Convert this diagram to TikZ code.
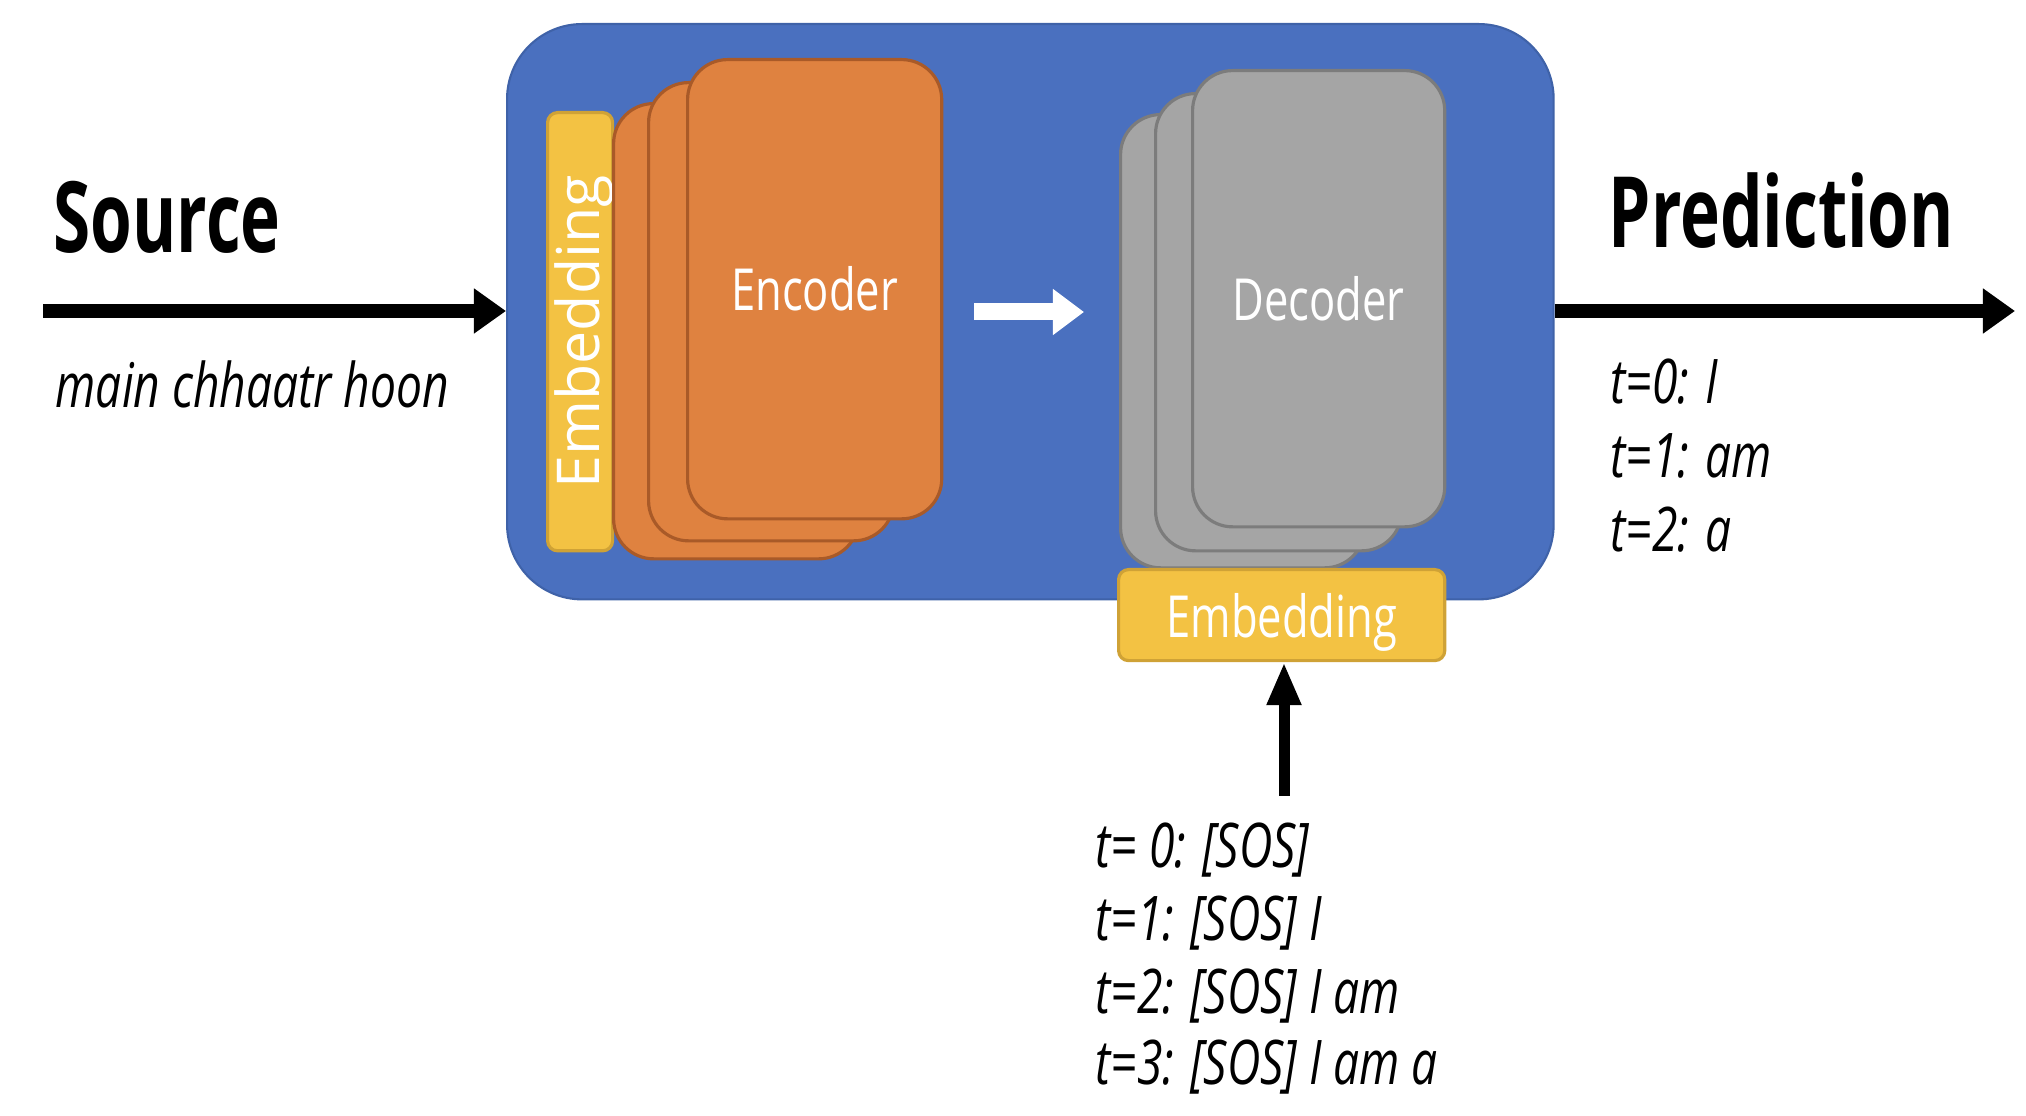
\documentclass[tikz,border=0pt]{standalone}
\usepackage{fontspec}
\setmainfont{Open Sans}
\newfontfamily\narrowfont[FakeStretch=0.75]{Open Sans}
\newfontfamily\headfont[FakeStretch=0.685]{Open Sans}
\usetikzlibrary{arrows.meta, positioning}
\definecolor{modelfill}{HTML}{4A70BF}
\definecolor{modelline}{HTML}{3F62A8}
\definecolor{encfill}{HTML}{DF8240}
\definecolor{encline}{HTML}{A95A28}
\definecolor{decfill}{HTML}{A5A5A5}
\definecolor{decline}{HTML}{7C7C7C}
\definecolor{embfill}{HTML}{F3C243}
\definecolor{embline}{HTML}{CFA236}
\tikzset{
        x=0.01cm, y=-0.01cm, % one unit is one pixel of the reference
        model/.style={anchor=north west, inner sep=0pt, draw=modelline, fill=modelfill, rounded corners=0.75cm, line width=0.6pt},
        stack/.style={anchor=north west, inner sep=0pt, rounded corners=0.4cm, line width=0.9pt, text=white,
            font=\narrowfont\fontsize{16.5}{20}\selectfont},
        encbox/.style={stack, draw=encline, fill=encfill},
        decbox/.style={stack, draw=decline, fill=decfill},
        embbox/.style={stack, rounded corners=0.1cm, draw=embline, fill=embfill},
        heading/.style={anchor=base west, inner sep=0pt, font=\headfont\bfseries\fontsize{28}{32}\selectfont},
        sample/.style={anchor=base west, inner sep=0pt, font=\narrowfont\itshape\fontsize{17.5}{21}\selectfont},
        bigarrow/.style={-{Triangle[length=0.32cm,width=0.43cm]}, line width=0.14cm}, % thick black arrows
        uparrow/.style={-{Triangle[length=0.43cm,width=0.32cm]}, line width=0.11cm},
        flowarrow/.style={-{Triangle[length=0.31cm,width=0.44cm]}, line width=0.17cm, white},
    }

\begin{document}
\begin{tikzpicture}
    \useasboundingbox (0,0) rectangle (2026,1116);

    % the model
    \node[model, minimum width=10.46cm, minimum height=5.75cm] (model) at (506,23) {};

    % encoder side
    \node[embbox, minimum width=0.65cm, minimum height=4.38cm] (encemb) at (546,111) {};
    \node[rotate=90, text=white, text depth=0pt, inner sep=0pt, font=\fontsize{16.8}{20}\selectfont]
        (encembtext) at ([xshift=-0.03cm]encemb.center) {Embedding};
    \node[encbox, minimum width=2.45cm, minimum height=4.55cm] (enc1) at (612,102) {};
    \node[encbox, minimum width=2.45cm, minimum height=4.58cm] (enc2) at (647,81) {};
    \node[encbox, minimum width=2.54cm, minimum height=4.59cm] (enc3) at (686,58) {Encoder};

    % decoder side
    \node[decbox, minimum width=2.44cm, minimum height=4.53cm] (dec1) at (1119,113) {};
    \node[decbox, minimum width=2.46cm, minimum height=4.57cm] (dec2) at (1154,92) {};
    \node[decbox, minimum width=2.52cm, minimum height=4.56cm] (dec3) at (1191,69) {Decoder};
    \node[embbox, minimum width=3.26cm, minimum height=0.91cm, text depth=0pt] (decemb) at (1117,568) {Embedding};

    \coordinate (wa) at (974,312);
    \coordinate (wb) at (1084,312);
    \draw[flowarrow] (wa) -- (wb);

    % input and output
    \node[heading] (source) at (53,253) {Source};
    \node[heading] (prediction) at (1608,248) {Prediction};
    \coordinate (src) at (43,311);
    \coordinate (out) at (2015,311);
    \draw[bigarrow] (src) -- (model.west |- src);
    \draw[bigarrow] (model.east |- out) -- (out);
    \node[sample] (srctext) at (55,408) {main chhaatr hoon};

    \node[sample] (pred0) at (1610,404) {t=0: I};
    \node[sample] (pred1) at (1610,478) {t=1: am};
    \node[sample] (pred2) at (1610,552) {t=2: a};

    \coordinate (inp) at (1284,796);
    \draw[uparrow] (inp) -- (inp |- decemb.south);
    \node[sample] (in0) at (1095,868) {t= 0: [SOS]};
    \node[sample] (in1) at (1095,941) {t=1: [SOS] I};
    \node[sample] (in2) at (1095,1014) {t=2: [SOS] I am};
    \node[sample] (in3) at (1095,1085) {t=3: [SOS] I am a};
\end{tikzpicture}
\end{document}
